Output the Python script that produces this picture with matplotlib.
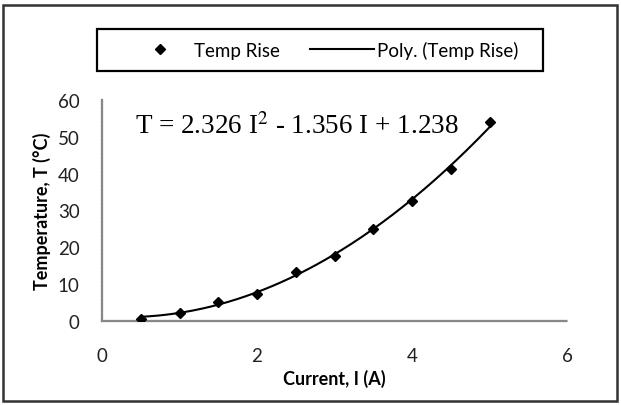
import numpy as np
import matplotlib
matplotlib.use("Agg")
import matplotlib.pyplot as plt
from matplotlib.patches import Rectangle

# Data
current = [0.5, 1.0, 1.5, 2.0, 2.5, 3.0, 3.5, 4.0, 4.5, 5.0]
temp_rise = [0.5, 2.2, 5.2, 7.4, 13.4, 17.7, 25.1, 32.7, 41.2, 54.0]
poly_coeffs = [2.326, -1.356, 1.238]
x_ticks = [0, 2, 4, 6]
y_ticks = [0, 10, 20, 30, 40, 50, 60]

sans = ["Lato", "DejaVu Sans"]
plt.rcParams["font.family"] = sans

fig = plt.figure(figsize=(6.21, 4.06), dpi=100)
ax = fig.add_axes([102/621, 1 - 322/406, (567-102)/621, (322-101)/406])

xs = np.linspace(min(current), max(current), 200)
ax.plot(xs, np.polyval(poly_coeffs, xs), color="black", lw=1.5, label="Poly. (Temp Rise)", zorder=2)
ax.plot(current, temp_rise, linestyle="none", marker="D", ms=5.5, color="black", label="Temp Rise", zorder=3)

ax.set_xlim(0, 6)
ax.set_ylim(0, 60)
ax.set_xticks(x_ticks)
ax.set_yticks(y_ticks)
ax.tick_params(length=0, labelsize=13.5, colors="#222222")
ax.tick_params(axis="x", pad=19)
ax.tick_params(axis="y", pad=16)
for s in ["top", "right"]:
    ax.spines[s].set_visible(False)
for s in ["left", "bottom"]:
    ax.spines[s].set_color("#888888")
    ax.spines[s].set_linestyle((0, (1, 0.6)))
    ax.spines[s].set_linewidth(1.6)

ax.set_xlabel("Current, I (A)", fontsize=13, fontweight="bold", labelpad=3)
ax.set_ylabel("Temperature, T (\u00b0C)", fontsize=13, fontweight="bold", labelpad=5)

ax.text(0.43, 53, "T = 2.326 I$^{2}$ - 1.356 I + 1.238", family="Liberation Serif",
        fontsize=19.5, va="center", ha="left", math_fontfamily="stix")

handles, labels = ax.get_legend_handles_labels()
leg = fig.legend(handles[::-1], labels[::-1], loc="center", ncol=2,
                 bbox_to_anchor=(0.5 * (97 + 543) / 621 + 0.005, 1 - 51/406),
                 frameon=False, fontsize=13.5,
                 handlelength=3.4, columnspacing=1.6, handletextpad=0.15)

fig.patches.append(Rectangle((97/621, 1 - 72/406), 446/621, 42/406, transform=fig.transFigure,
                             fill=False, edgecolor="black", lw=1.6))
fig.patches.append(Rectangle((3/621, 4/406), 614/621, 396/406, transform=fig.transFigure,
                             fill=False, edgecolor="#333333", lw=1.8))

fig.savefig("out.png", dpi=100)
